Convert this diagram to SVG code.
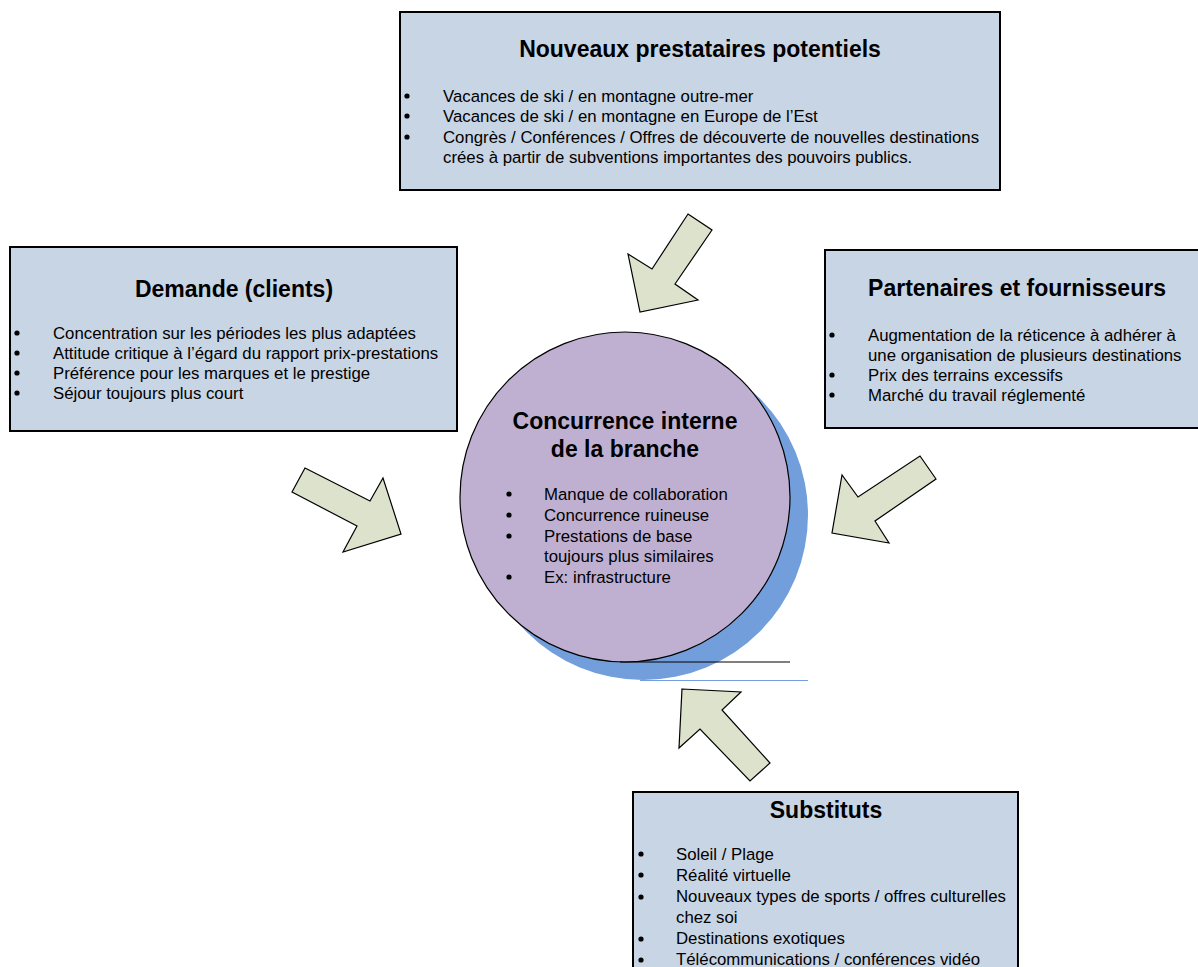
<svg xmlns="http://www.w3.org/2000/svg" width="1198" height="967" viewBox="0 0 1198 967">
  <style>
    .box { fill: #c8d5e5; stroke: #000; stroke-width: 2; }
    .title { font-family: "Liberation Sans", Arial, sans-serif; font-weight: bold; font-size: 23px; fill: #000; text-anchor: middle; }
    .item { font-family: "Liberation Sans", Arial, sans-serif; font-size: 16.8px; fill: #000; }
    .dot { fill: #000; }
    .arrow { fill: #dde2cc; stroke: #000; stroke-width: 1.2; stroke-linejoin: miter; }
  </style>
  <defs>
    <circle id="b" r="2.6" class="dot"/>
  </defs>
  <rect width="1198" height="967" fill="#fff"/>

  <!-- central circle with offset shadow -->
  <g id="center">
    <circle cx="643" cy="515" r="165" fill="#729fdb"/>
    <circle cx="625" cy="497" r="165" fill="#bfb0d1" stroke="#000" stroke-width="1.2"/>
    <line x1="620" y1="662" x2="790" y2="662" stroke="#000" stroke-width="1"/>
    <line x1="640" y1="680.5" x2="808" y2="680.5" stroke="#729fdb" stroke-width="1"/>
    <text class="title" x="625" y="429">Concurrence interne</text>
    <text class="title" x="625" y="457">de la branche</text>
    <g class="item">
      <use href="#b" x="509" y="494"/><text x="544" y="500">Manque de collaboration</text>
      <use href="#b" x="509" y="515"/><text x="544" y="521">Concurrence ruineuse</text>
      <use href="#b" x="509" y="536"/><text x="544" y="542">Prestations de base</text>
      <text x="544" y="562">toujours plus similaires</text>
      <use href="#b" x="509" y="577"/><text x="544" y="583">Ex: infrastructure</text>
    </g>
  </g>

  <!-- top box -->
  <g id="nouveaux">
    <rect class="box" x="400" y="12" width="600" height="178"/>
    <text class="title" x="700" y="57">Nouveaux prestataires potentiels</text>
    <g class="item">
      <use href="#b" x="407" y="96"/><text x="443" y="102">Vacances de ski / en montagne outre-mer</text>
      <use href="#b" x="407" y="116"/><text x="443" y="122">Vacances de ski / en montagne en Europe de l’Est</text>
      <use href="#b" x="407" y="137"/><text x="443" y="143">Congrès / Conférences / Offres de découverte de nouvelles destinations</text>
      <text x="443" y="163">crées à partir de subventions importantes des pouvoirs publics.</text>
    </g>
  </g>

  <!-- left box -->
  <g id="demande">
    <rect class="box" x="10" y="247" width="447" height="184"/>
    <text class="title" x="234" y="297">Demande (clients)</text>
    <g class="item">
      <use href="#b" x="17" y="333"/><text x="53" y="339">Concentration sur les périodes les plus adaptées</text>
      <use href="#b" x="17" y="353"/><text x="53" y="359">Attitude critique à l’égard du rapport prix-prestations</text>
      <use href="#b" x="17" y="373"/><text x="53" y="379">Préférence pour les marques et le prestige</text>
      <use href="#b" x="17" y="393"/><text x="53" y="399">Séjour toujours plus court</text>
    </g>
  </g>

  <!-- right box -->
  <g id="partenaires">
    <rect class="box" x="825" y="250" width="380" height="178"/>
    <text class="title" x="1017" y="296">Partenaires et fournisseurs</text>
    <g class="item">
      <use href="#b" x="832" y="335"/><text x="868" y="341">Augmentation de la réticence à adhérer à</text>
      <text x="868" y="361">une organisation de plusieurs destinations</text>
      <use href="#b" x="832" y="375"/><text x="868" y="381">Prix des terrains excessifs</text>
      <use href="#b" x="832" y="395"/><text x="868" y="401">Marché du travail réglementé</text>
    </g>
  </g>

  <!-- bottom box -->
  <g id="substituts">
    <rect class="box" x="633" y="792" width="385" height="190"/>
    <text class="title" x="826" y="818">Substituts</text>
    <g class="item">
      <use href="#b" x="641" y="854"/><text x="676" y="860">Soleil / Plage</text>
      <use href="#b" x="641" y="875"/><text x="676" y="881">Réalité virtuelle</text>
      <use href="#b" x="641" y="897"/><text x="676" y="902">Nouveaux types de sports / offres culturelles</text>
      <text x="676" y="923">chez soi</text>
      <use href="#b" x="641" y="939"/><text x="676" y="944">Destinations exotiques</text>
      <use href="#b" x="641" y="960"/><text x="676" y="965">Télécommunications / conférences vidéo</text>
    </g>
  </g>

  <!-- block arrows pointing at the centre -->
  <g id="connectors">
    <polygon class="arrow" points="688,214 712,230 675,284 698,300 640,312 628,254 652,269"/>
    <polygon class="arrow" points="305,468 370,501 383,478 401,534 343,552 357,526 292,492"/>
    <polygon class="arrow" points="920,456 936,479 875,521 889,543 832,533 842,475 858,497"/>
    <polygon class="arrow" points="682,689 741,692 722,710 770,763 750,781 700,729 679,748"/>
  </g>
</svg>
